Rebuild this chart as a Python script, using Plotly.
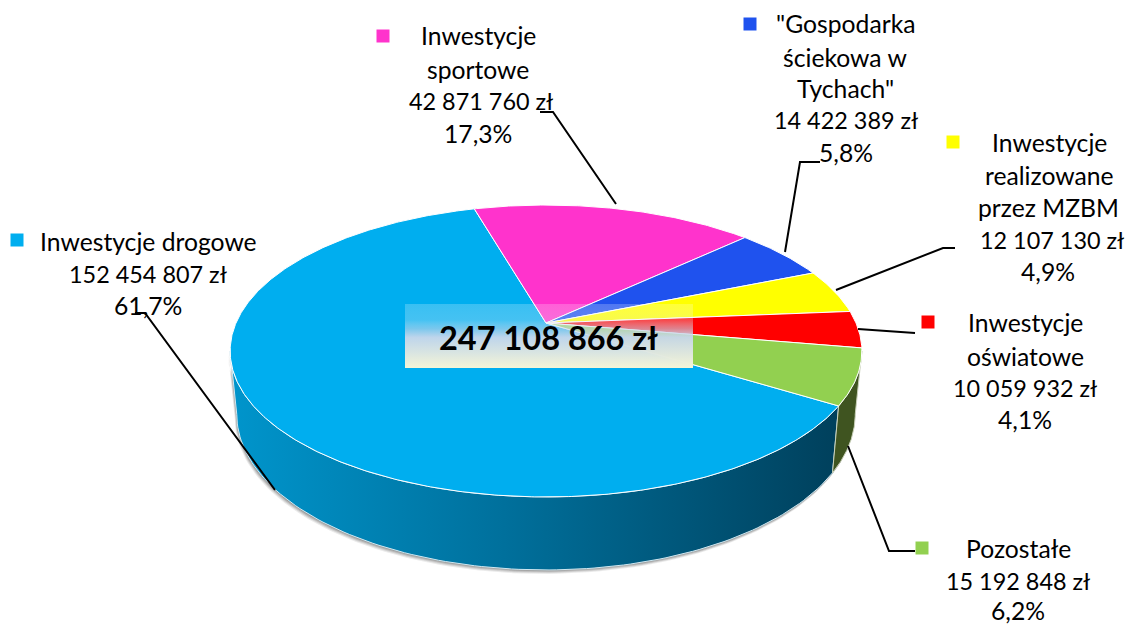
import numpy as np
import plotly.graph_objects as go

categories = ["Inwestycje drogowe", "Inwestycje sportowe", "Gospodarka ściekowa w Tychach",
              "Inwestycje realizowane przez MZBM", "Inwestycje oświatowe", "Pozostałe"]
values = [152454807, 42871760, 14422389, 12107130, 10059932, 15192848]
colors = ["#00AEEF", "#FF33CC", "#1F52EE", "#FFFF00", "#FF0000", "#92D050"]
total_label = "247 108 866 zł"

label_lines = [
    [("Inwestycje drogowe", 148, 241), ("152 454 807 zł", 148, 274), ("61,7%", 148, 305)],
    [("Inwestycje", 478, 35), ("sportowe", 478, 69), ("42 871 760 zł", 481, 101), ("17,3%", 478, 133)],
    [('"Gospodarka', 845, 23), ("ściekowa w", 845, 57), ('Tychach"', 845, 88),
     ("14 422 389 zł", 846, 120), ("5,8%", 846, 152)],
    [("Inwestycje", 1049, 142), ("realizowane", 1049, 175), ("przez MZBM", 1048, 207),
     ("12 107 130 zł", 1052, 240), ("4,9%", 1048, 271)],
    [("Inwestycje", 1025, 322), ("oświatowe", 1025, 356), ("10 059 932 zł", 1025, 388), ("4,1%", 1025, 419)],
    [("Pozostałe", 1018, 548), ("15 192 848 zł", 1018, 581), ("6,2%", 1018, 610)],
]
key_x = [17, 383, 750, 953, 928, 922]
key_y = [240, 36, 24, 142, 322, 548]
leaders = [
    ([135, 145, 275], [313, 313, 490]),
    ([540, 553, 616], [112, 112, 204]),
    ([820, 800, 785], [162, 162, 252]),
    ([955, 943, 836], [248, 248, 290]),
    ([858, 915], [329, 333]),
    ([848, 889, 915], [446, 551, 551]),
]

# pie geometry, in the axes' pixel-sized units
CX, CY, B, A, K = 546, 323, 310, 140.6, 0.1918
BOT_SX, BOT_SY, BOT_C = 0.979, 1.066, 384.5
START_DEG = 122.0


def rim(deg, bottom=False):
    t = np.radians(deg)
    X, Y = np.sin(t), np.cos(t)
    dx = B * X / (1 + K * Y)
    dy = -A * Y / (1 + K * Y)
    if bottom:
        return CX + BOT_SX * dx, BOT_C + BOT_SY * dy
    return CX + dx, CY + dy


fig = go.Figure()

shares = np.array(values) / sum(values)
edges = START_DEG + np.concatenate([[0], np.cumsum(shares)]) * 360
RIGHT_EXT = 90 + np.degrees(np.arcsin(K))
LEFT_EXT = 270 - np.degrees(np.arcsin(K))


def wall(d0, d1):
    a = np.linspace(d0, d1, 120)
    x0, y0 = rim(a)
    x1, y1 = rim(a[::-1], True)
    return np.concatenate([x0, x1, x0[:1]]), np.concatenate([y0, y1, y0[:1]])


# soft shadow beneath the wall
for off, op in [(4, 0.10), (3, 0.14), (2, 0.18), (1, 0.22)]:
    wx, wy = wall(RIGHT_EXT, LEFT_EXT)
    fig.add_trace(go.Scatter(x=wx - off * 0.5, y=wy + off, mode="lines", fill="toself",
                             line=dict(width=0), fillcolor=f"rgba(60,60,60,{op})", hoverinfo="skip"))

# walls
wx, wy = wall(START_DEG, LEFT_EXT)
fig.add_trace(go.Scatter(x=wx, y=wy, mode="lines", fill="toself", line=dict(color="#CFE8F2", width=1),
                         fillgradient=dict(type="horizontal",
                                           colorscale=[[0, "#0095CC"], [0.45, "#00709C"], [1, "#00405C"]]),
                         hoverinfo="skip"))
wx, wy = wall(RIGHT_EXT, START_DEG)
fig.add_trace(go.Scatter(x=wx, y=wy, mode="lines", fill="toself", line=dict(color="#C8D0B8", width=1),
                         fillcolor="#3F5420", hoverinfo="skip"))

# top slices
for i, c in enumerate(colors):
    a = np.linspace(edges[i], edges[i + 1], max(8, int((edges[i + 1] - edges[i]) * 2)))
    x, y = rim(a)
    fig.add_trace(go.Scatter(x=np.concatenate([[CX], x, [CX]]), y=np.concatenate([[CY], y, [CY]]),
                             mode="lines", fill="toself", fillcolor=c,
                             line=dict(color="white", width=1), name=categories[i], hoverinfo="skip"))

# central box with vertical gradient
fig.add_trace(go.Scatter(x=[405, 693, 693, 405, 405], y=[304, 304, 368, 368, 304], mode="lines",
                         fill="toself", line=dict(width=0),
                         fillgradient=dict(type="vertical", colorscale=[
                             [0, "rgba(245,245,215,1)"], [0.48, "rgba(200,215,235,0.95)"],
                             [0.62, "rgba(200,215,235,0.6)"], [0.75, "rgba(230,240,250,0.3)"],
                             [1, "rgba(255,255,255,0.22)"]]),
                         hoverinfo="skip"))

# leader lines
for lx, ly in leaders:
    fig.add_trace(go.Scatter(x=lx, y=ly, mode="lines", line=dict(color="black", width=2), hoverinfo="skip"))

# legend keys
fig.add_trace(go.Scatter(x=key_x, y=key_y, mode="markers",
                         marker=dict(symbol="square", size=13, color=colors), hoverinfo="skip"))

for block in label_lines:
    for txt, x, y in block:
        fig.add_annotation(x=x, y=y, text=txt, showarrow=False, xanchor="center", yanchor="middle",
                           font=dict(family="Lato", size=23.4 if txt.endswith("zł") else 24.7, color="black"))
fig.add_annotation(x=548, y=337, text=f"<b>{total_label}</b>", showarrow=False,
                   font=dict(family="Lato", size=32.5, color="black"))

fig.update_layout(width=1125, height=625, margin=dict(l=0, r=0, t=0, b=0), showlegend=False,
                  paper_bgcolor="white", plot_bgcolor="white",
                  xaxis=dict(range=[0, 1125], visible=False),
                  yaxis=dict(range=[625, 0], visible=False))
fig.write_html("out.html", config={"displayModeBar": False}, post_script="document.body.style.margin='0';")
